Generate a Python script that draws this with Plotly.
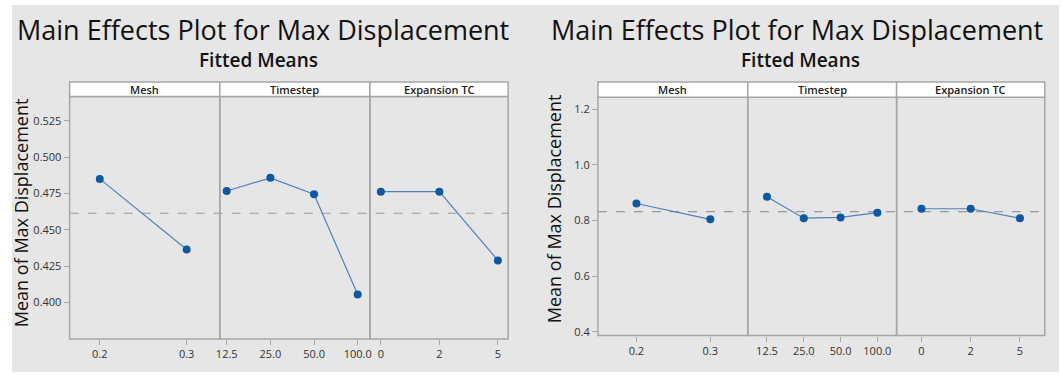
import plotly.graph_objects as go

# ---------------- data ----------------
factors = ["Mesh", "Timestep", "Expansion TC"]
mesh_levels = ["0.2", "0.3"]
timestep_levels = ["12.5", "25.0", "50.0", "100.0"]
expansion_levels = ["0", "2", "5"]

left_mesh = [0.485, 0.4365]
left_timestep = [0.4767, 0.4857, 0.4745, 0.4055]
left_expansion = [0.4762, 0.4762, 0.4290]
left_mean = 0.4614

right_mesh = [0.861, 0.804]
right_timestep = [0.885, 0.808, 0.811, 0.828]
right_expansion = [0.842, 0.842, 0.808]
right_mean = 0.8315

left_yticks = [0.400, 0.425, 0.450, 0.475, 0.500, 0.525]
right_yticks = [0.4, 0.6, 0.8, 1.0, 1.2]

title_text = "Main Effects Plot for Max Displacement"
subtitle_text = "Fitted Means"
ytitle_text = "Mean of Max Displacement"

# ---------------- layout helpers ----------------
W, H = 1061, 375
FONT = "Open Sans"
LINE_C = "#4f81bd"
MARK_C = "#0b58a6"
FRAME_C = "#a6a6a6"
BG = "#e6e6e6"

def px_x(p):
    return p / W

def px_y(p):
    return 1 - p / H

fig = go.Figure()

charts = [
    dict(levels=[mesh_levels, timestep_levels, expansion_levels],
         values=[left_mesh, left_timestep, left_expansion],
         mean=left_mean,
         xpx=[(66, 217), (217, 368), (368, 507)],
         ypx=(97.3, 341.7), strip_top=82.7,
         ranges=[[-0.347, 1.381], [-0.159, 3.28], [-0.187, 2.175]],
         yrange=[0.375, 0.5416], yticks=left_yticks, yfmt="{:.3f}",
         title_x=260, sub_x=256, ytitle_x=17, ytitle_y=214),
    dict(levels=[mesh_levels, timestep_levels, expansion_levels],
         values=[right_mesh, right_timestep, right_expansion],
         mean=right_mean,
         xpx=[(597.3, 748), (748, 897.7), (897.7, 1046.7)],
         ypx=(98, 338.3), strip_top=82.7,
         ranges=[[-0.521, 1.507], [-0.522, 3.524], [-0.505, 2.505]],
         yrange=[0.386, 1.243], yticks=right_yticks, yfmt="{:.1f}",
         title_x=798, sub_x=801, ytitle_x=553, ytitle_y=210),
]

shapes = []
annotations = []
# gray background
shapes.append(dict(type="rect", xref="paper", yref="paper",
                   x0=px_x(8), x1=1, y0=0, y1=px_y(5),
                   fillcolor=BG, line=dict(width=0), layer="below"))

xi = 1
for ci, ch in enumerate(charts):
    yname = "yaxis" if ci == 0 else "yaxis2"
    yref = "y" if ci == 0 else "y2"
    ytop, ybot = ch["ypx"]
    plot_h = ybot - ytop
    strip_frac = (ytop - ch["strip_top"]) / plot_h
    first_x = None
    for pi in range(3):
        xname = "xaxis" if xi == 1 else f"xaxis{xi}"
        xref = "x" if xi == 1 else f"x{xi}"
        if first_x is None:
            first_x = xref
        x0p, x1p = ch["xpx"][pi]
        levels = ch["levels"][pi]
        fig.add_trace(go.Scatter(
            x=levels, y=ch["values"][pi], xaxis=xref, yaxis=yref,
            mode="lines+markers",
            line=dict(color=LINE_C, width=1.2),
            marker=dict(color=MARK_C, size=8),
            showlegend=False, hoverinfo="x+y"))
        fig.layout[xname] = dict(
            domain=[px_x(x0p), px_x(x1p)], anchor=yref, type="category",
            categoryorder="array", categoryarray=levels,
            range=ch["ranges"][pi], showgrid=False, zeroline=False,
            showline=False, ticks="outside", ticklen=5, tickwidth=1,
            tickcolor=FRAME_C, tickfont=dict(family=FONT, size=11, color="#333333"),
            fixedrange=True)
        # panel frame
        shapes.append(dict(type="rect", xref=f"{xref} domain", yref=f"{yref} domain",
                           x0=0, x1=1, y0=0, y1=1,
                           line=dict(color=FRAME_C, width=1.5), layer="above"))
        # strip
        shapes.append(dict(type="rect", xref=f"{xref} domain", yref=f"{yref} domain",
                           x0=0, x1=1, y0=1, y1=1 + strip_frac,
                           fillcolor="white", line=dict(color=FRAME_C, width=1.5),
                           layer="above"))
        annotations.append(dict(text=factors[pi], xref=f"{xref} domain",
                                yref=f"{yref} domain", x=0.5, y=1 + strip_frac / 2,
                                showarrow=False, xanchor="center", yanchor="middle",
                                font=dict(family=FONT, size=11, color="#222222",
                                          weight=600)))
        xi += 1
    fig.layout[yname] = dict(
        domain=[px_y(ybot), px_y(ytop)], anchor=first_x, range=ch["yrange"],
        tickvals=ch["yticks"], ticktext=[ch["yfmt"].format(v) for v in ch["yticks"]],
        showgrid=False, zeroline=False, showline=False, ticks="outside",
        ticklen=5, tickwidth=1, tickcolor=FRAME_C,
        tickfont=dict(family=FONT, size=11, color="#333333"), fixedrange=True)
    # mean reference line
    shapes.append(dict(type="line", xref="paper", yref=yref,
                       x0=px_x(ch["xpx"][0][0]), x1=px_x(ch["xpx"][2][1]),
                       y0=ch["mean"], y1=ch["mean"],
                       line=dict(color="#999999", width=1.2, dash="dash"),
                       layer="below"))
    annotations.append(dict(text=title_text, xref="paper", yref="paper",
                            x=px_x(ch["title_x"]), y=px_y(30), showarrow=False,
                            xanchor="center", yanchor="middle",
                            font=dict(family=FONT, size=27, color="#111111",
                                      weight=500)))
    annotations.append(dict(text=subtitle_text, xref="paper", yref="paper",
                            x=px_x(ch["sub_x"]), y=px_y(60), showarrow=False,
                            xanchor="center", yanchor="middle",
                            font=dict(family=FONT, size=19, color="#111111", weight=600)))
    annotations.append(dict(text=ytitle_text, xref="paper", yref="paper",
                            x=px_x(ch["ytitle_x"]), y=px_y(ch["ytitle_y"]),
                            showarrow=False, textangle=-90,
                            xanchor="center", yanchor="middle",
                            font=dict(family=FONT, size=18, color="#111111",
                                      weight=500)))

fig.update_layout(width=W, height=H, margin=dict(l=0, r=0, t=0, b=0),
                  paper_bgcolor="white", plot_bgcolor="white",
                  shapes=shapes, annotations=annotations, showlegend=False)

fig.write_html("out.html", config=dict(displayModeBar=False))
